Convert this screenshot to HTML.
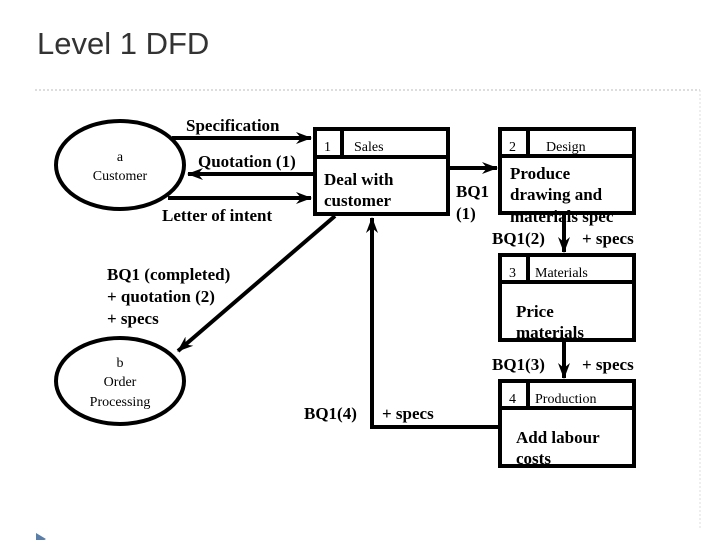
<!DOCTYPE html>
<html><head><style>
body{margin:0;width:720px;height:540px;background:#fff;overflow:hidden;position:relative}
svg{position:absolute;left:0;top:0}
</style></head><body>
<svg width="720" height="540" viewBox="0 0 720 540" font-family="Liberation Serif, serif">
<text x="37" y="54" font-family="Liberation Sans, sans-serif" font-size="31" fill="#333">Level 1 DFD</text>
<line x1="35" y1="90" x2="700" y2="90" stroke="#bbb" stroke-dasharray="2,2"/>
<line x1="700" y1="90" x2="700" y2="530" stroke="#ddd" stroke-dasharray="2,2"/>
<polygon points="36,533 36,545 46,539" fill="#5b7ea8"/>
<defs>
<marker id="b" markerWidth="16" markerHeight="12" refX="15" refY="6" orient="auto" markerUnits="userSpaceOnUse"><path d="M0,0 L16,6 L0,12 L5,6z" fill="#000"/></marker></defs>
<g stroke="#000" stroke-width="4" fill="none">
<ellipse cx="120" cy="165" rx="64" ry="44"/>
<ellipse cx="120" cy="381" rx="64" ry="43"/>
<rect x="315" y="129" width="133" height="85"/>
<line x1="315" y1="157" x2="448" y2="157"/><line x1="342" y1="129" x2="342" y2="157"/>
<rect x="500" y="129" width="134" height="84"/>
<line x1="500" y1="156" x2="634" y2="156"/><line x1="528" y1="129" x2="528" y2="156"/>
<rect x="500" y="255" width="134" height="85"/>
<line x1="500" y1="282" x2="634" y2="282"/><line x1="528" y1="255" x2="528" y2="282"/>
<rect x="500" y="381" width="134" height="85"/>
<line x1="500" y1="408" x2="634" y2="408"/><line x1="528" y1="381" x2="528" y2="408"/>
<line x1="172" y1="138" x2="311" y2="138" marker-end="url(#b)"/>
<line x1="313" y1="174" x2="188" y2="174" marker-end="url(#b)"/>
<line x1="168" y1="198" x2="311" y2="198" marker-end="url(#b)"/>
<line x1="335" y1="216" x2="178" y2="351" marker-end="url(#b)"/>
<line x1="450" y1="168" x2="497" y2="168" marker-end="url(#b)"/>
<line x1="564" y1="215" x2="564" y2="252" marker-end="url(#b)"/>
<line x1="564" y1="342" x2="564" y2="378" marker-end="url(#b)"/>
<polyline points="498,427 372,427 372,218" marker-end="url(#b)"/>
</g>
<g font-size="17" fill="#000" font-weight="bold">
<text x="186" y="131">Specification</text>
<text x="198" y="167">Quotation (1)</text>
<text x="162" y="221">Letter of intent</text>
<text x="107" y="280">BQ1 (completed)</text>
<text x="107" y="302">+ quotation (2)</text>
<text x="107" y="324">+ specs</text>
<text x="304" y="419">BQ1(4)</text>
<text x="382" y="419">+ specs</text>
<text x="456" y="197">BQ1</text>
<text x="456" y="219">(1)</text>
<text x="492" y="244">BQ1(2)</text>
<text x="582" y="244">+ specs</text>
<text x="492" y="370">BQ1(3)</text>
<text x="582" y="370">+ specs</text>
</g>
<g font-size="14" fill="#000">
<text x="120" y="161" text-anchor="middle">a</text>
<text x="120" y="180" text-anchor="middle">Customer</text>
<text x="120" y="367" text-anchor="middle">b</text>
<text x="120" y="386" text-anchor="middle">Order</text>
<text x="120" y="406" text-anchor="middle">Processing</text>
<text x="324" y="151">1</text><text x="354" y="151">Sales</text>
<text x="509" y="151">2</text><text x="546" y="151">Design</text>
<text x="509" y="277">3</text><text x="535" y="277">Materials</text>
<text x="509" y="403">4</text><text x="535" y="403">Production</text>
</g>
<g font-size="17" fill="#000" font-weight="bold">
<text x="324" y="185">Deal with</text>
<text x="324" y="206">customer</text>
<text x="510" y="179">Produce</text>
<text x="510" y="200">drawing and</text>
<text x="510" y="222">materials spec</text>
<text x="516" y="317">Price</text>
<text x="516" y="338">materials</text>
<text x="516" y="443">Add labour</text>
<text x="516" y="464">costs</text>
</g>
</svg>
</body></html>
